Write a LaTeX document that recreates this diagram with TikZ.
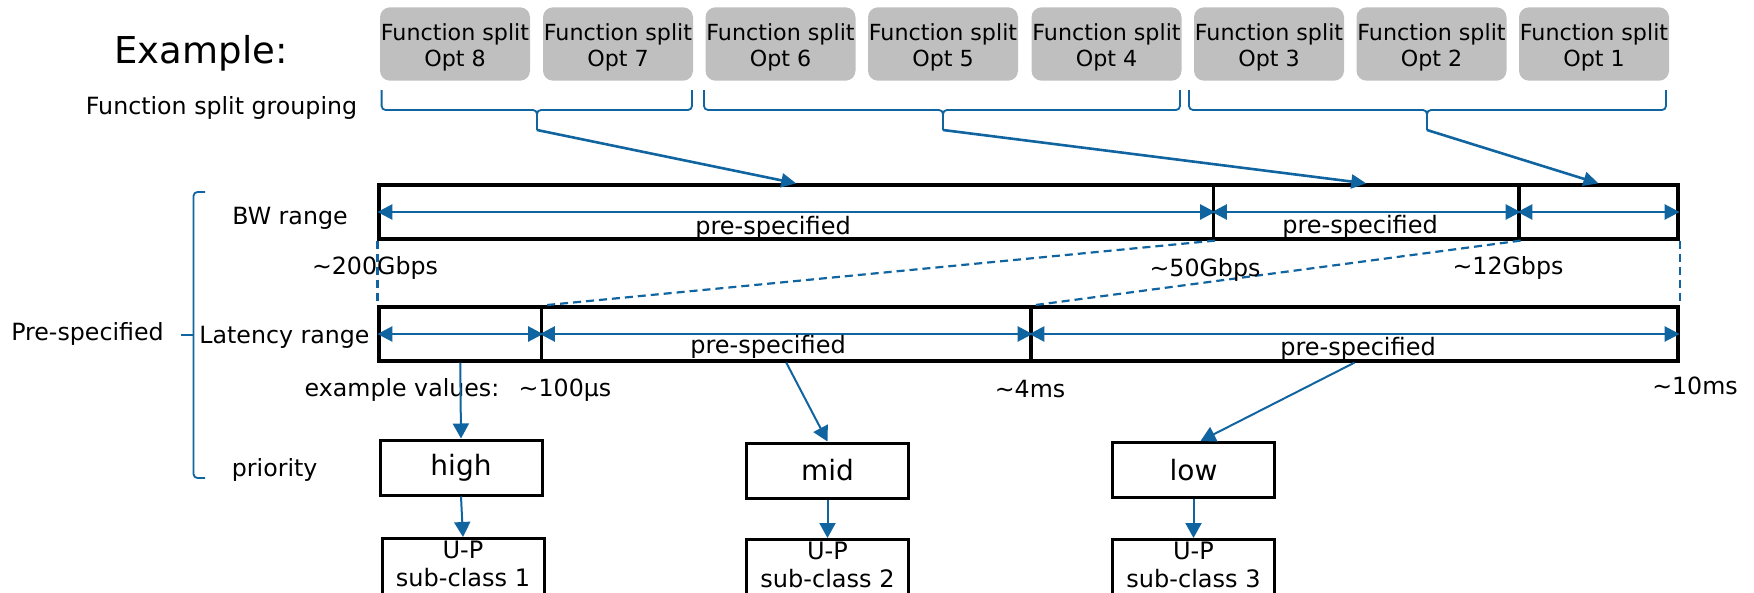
\documentclass[tikz,border=0pt]{standalone}
\usepackage{fontspec}
\setmainfont{DejaVu Sans}
\usetikzlibrary{arrows.meta}
\definecolor{lineblue}{RGB}{16,100,160}
\definecolor{splitgray}{RGB}{191,191,191}

\begin{document}
\begin{tikzpicture}[x=1pt,y=-1pt,
  lbl/.style={inner sep=0pt, font=\fontsize{23.7}{28}\selectfont, anchor=base},
  big/.style={inner sep=0pt, font=\fontsize{37}{41}\selectfont, anchor=base},
  spec/.style={inner sep=0pt, font=\fontsize{24}{28}\selectfont, anchor=base},
  fsbox/.style={fill=splitgray, rounded corners=10pt, minimum width=150pt, minimum height=73.4pt, inner sep=0pt},
  fstext/.style={inner sep=0pt, font=\fontsize{22.2}{26}\selectfont, anchor=base},
  seg/.style={draw=black, line width=3.2pt, inner sep=0pt, minimum height=54pt},
  pbox/.style={draw=black, line width=3pt, inner sep=0pt, minimum width=162pt, minimum height=55pt, font=\fontsize{28}{32}\selectfont},
  cbox/.style={draw=black, line width=3pt, inner sep=0pt, minimum width=162pt, minimum height=70pt, anchor=north},
  ctext/.style={inner sep=0pt, font=\fontsize{24}{28}\selectfont, anchor=base},
  brace/.style={draw=lineblue, line width=1.8pt, rounded corners=4pt},
  feed/.style={draw=lineblue, line width=2.6pt, -{Triangle[length=15pt,width=14pt]}},
  span/.style={draw=lineblue, line width=2.6pt, {Triangle[length=15pt,width=15pt]}-{Triangle[length=15pt,width=15pt]}},
  down/.style={draw=lineblue, line width=2pt, -{Triangle[length=15pt,width=16pt]}},
  guide/.style={draw=lineblue, line width=2.2pt, dash pattern=on 8pt off 5pt},
]
\clip (0,0) rectangle (1754,592);

% title and row labels
\node[big] (ex) at (201,63) {Example:};
\node[lbl] (grp) at (221.5,114) {Function split grouping};
\node[lbl] (bwl) at (290,224) {BW range};
\node[lbl] (latl) at (284.5,343.3) {Latency range};
\node[lbl] (prl) at (274.7,476.7) {priority};
\node[lbl] (psl) at (87.5,340) {Pre-specified};

% function split options
\foreach \n/\x in {8/455,7/618,6/780.5,5/943,4/1106.5,3/1269,2/1431.5,1/1594}{
  \node[fsbox] (opt\n) at (\x,44) {};
  \node[fstext] (opt\n a) at (\x,40.7) {Function split};
  \node[fstext] (opt\n b) at (\x,66) {Opt \n};
}

% grouping braces
\draw[brace] (381.6,90) -- (381.6,110) -- (537,110) -- (537,130);
\draw[brace] (537,130) -- (537,110) -- (692,110) -- (692,90);
\draw[brace] (704,90) -- (704,110) -- (943,110) -- (943,130);
\draw[brace] (943,130) -- (943,110) -- (1180,110) -- (1180,90);
\draw[brace] (1189,90) -- (1189,110) -- (1427,110) -- (1427,130);
\draw[brace] (1427,130) -- (1427,110) -- (1666,110) -- (1666,90);
\coordinate (g1) at (537,130);
\coordinate (g2) at (943,130);
\coordinate (g3) at (1427,130);

% left brace over the pre-specified rows
\draw[brace] (205,192) -- (193.5,192) -- (193.5,478) -- (205,478);
\draw[brace] (181,335) -- (193.5,335);

% BW range bar
\node[seg, minimum width=834.5pt] (bw1) at (796.25,212) {};
\node[seg, minimum width=305.5pt] (bw2) at (1366.25,212) {};
\node[seg, minimum width=159pt] (bw3) at (1598.5,212) {};
\draw[span] (bw1.west) -- (bw1.east);
\draw[span] (bw2.west) -- (bw2.east);
\draw[span] (bw3.west) -- (bw3.east);
\node[spec] (bwt1) at (773,234) {pre-specified};
\node[spec] (bwt2) at (1360,233) {pre-specified};

\draw[feed] (g1) -- (bw1.north);
\draw[feed] (g2) -- (bw2.north);
\draw[feed] (g3) -- (bw3.north);

% latency range bar
\node[seg, minimum width=162.5pt] (lat1) at (460.25,334) {};
\node[seg, minimum width=489.5pt] (lat2) at (786.25,334) {};
\node[seg, minimum width=647pt] (lat3) at (1354.5,334) {};
\draw[span] (lat1.west) -- (lat1.east);
\draw[span] (lat2.west) -- (lat2.east);
\draw[span] (lat3.west) -- (lat3.east);
\node[spec] (latt2) at (768,353) {pre-specified};
\node[spec] (latt3) at (1358,355) {pre-specified};

% mapping between the two bars
\draw[guide] (bw1.south west) -- (lat1.north west);
\draw[guide] (bw1.south east) -- (lat1.north east);
\draw[guide] (bw2.south east) -- (lat2.north east);
\draw[guide] (bw3.south east) -- (lat3.north east);

% example values
\node[lbl] (v200) at (375,274) {\textasciitilde200Gbps};
\node[lbl] (v50) at (1205,276) {\textasciitilde50Gbps};
\node[lbl] (v12) at (1508,274) {\textasciitilde12Gbps};
\node[lbl] (vex) at (402,396) {example values:};
\node[lbl] (v100) at (565,396) {\textasciitilde100µs};
\node[lbl] (v4) at (1030,397) {\textasciitilde4ms};
\node[lbl] (v10) at (1695,394) {\textasciitilde10ms};

% priorities
\node[pbox] (high) at (461,467.5) {high};
\node[pbox] (mid) at (827.5,470.5) {mid};
\node[pbox] (low) at (1193.5,470) {low};
\draw[down] (lat1.south) -- (high.north);
\draw[down] (lat2.south) -- (mid.north);
\draw[down] (lat3.south) -- ([xshift=7pt]low.north);

% user-plane sub-classes
\node[cbox] (sc1) at (463,537) {};
\node[cbox] (sc2) at (827.5,538) {};
\node[cbox] (sc3) at (1193.5,538) {};
\node[ctext] (sc1a) at (463,558) {U-P};
\node[ctext] (sc1b) at (463,586.7) {sub-class 1};
\node[ctext] (sc2a) at (827.5,559) {U-P};
\node[ctext] (sc2b) at (827.5,587.7) {sub-class 2};
\node[ctext] (sc3a) at (1193.5,559) {U-P};
\node[ctext] (sc3b) at (1193.5,587.7) {sub-class 3};
\draw[down] (high.south) -- (sc1.north);
\draw[down] (mid.south) -- (sc2.north);
\draw[down] (low.south) -- (sc3.north);
\end{tikzpicture}
\end{document}
